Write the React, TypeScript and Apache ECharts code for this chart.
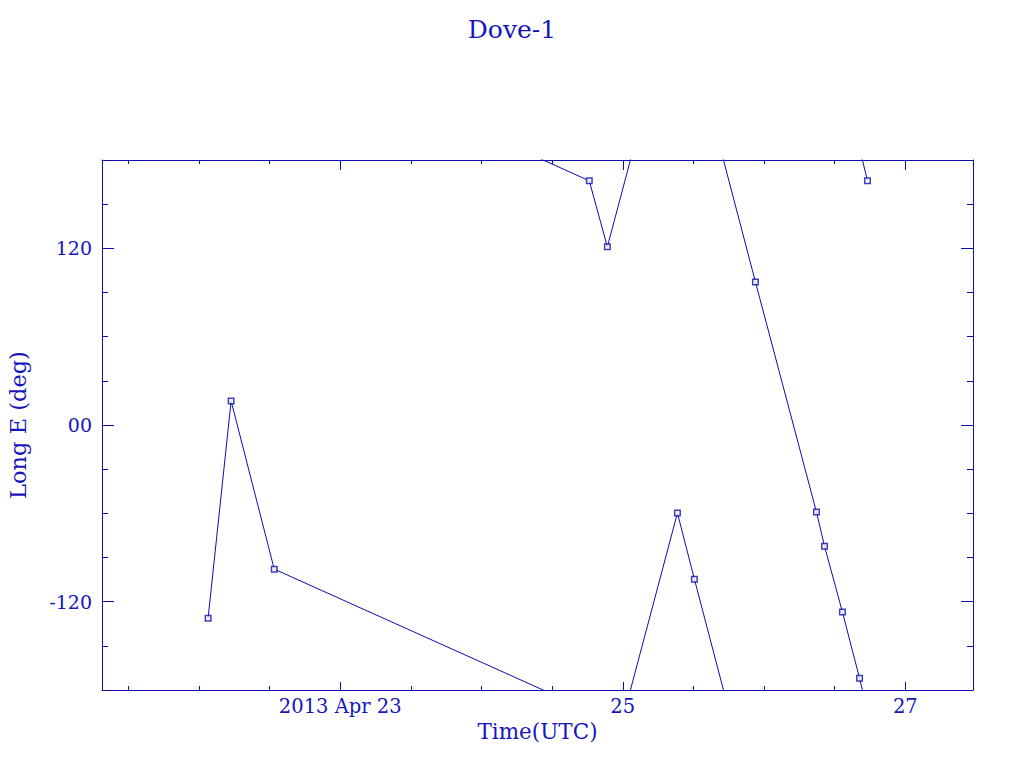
import React, { useEffect, useRef } from "react";
import * as echarts from "echarts";

// Time in days of April 2013 (UTC)
const days = [22.065, 22.228, 22.533, 24.763, 24.891, 25.387, 25.507, 25.939, 26.371, 26.428, 26.555, 26.676, 26.732];
// East longitude (deg), wrapped to [-180, 180]
const longE = [-131.2, 16.3, -97.9, 165.9, 121.0, -59.8, -104.7, 97.2, -59.1, -82.3, -127.1, -172.0, 165.9];

const xMajor = [23, 25, 27];
const xMinor = [21.5, 22, 22.5, 23.5, 24, 24.5, 25.5, 26, 26.5];
const yMajor = [-120, 0, 120];
const yMinor = [-150, -90, -60, -30, 30, 60, 90, 150];

const X_MIN = 21.314;
const X_MAX = 27.479;
const LINE = "#0c0cb0";
const TEXT = "#1616bc";
const FONT = "DejaVu Serif";

function unwrap(vals: number[]): number[] {
  const out: number[] = [];
  let off = 0;
  for (let i = 0; i < vals.length; i++) {
    if (i > 0) {
      const d = vals[i] - vals[i - 1];
      if (d > 180) off -= 360;
      else if (d < -180) off += 360;
    }
    out.push(vals[i] + off);
  }
  return out;
}

export default function App() {
  const ref = useRef<HTMLDivElement>(null);
  useEffect(() => {
    if (!ref.current) return;
    const chart = echarts.init(ref.current, null, { renderer: "svg" });
    const uw = unwrap(longE);
    const offsets = [0, 360, 720];
    const lineSeries = offsets.map((o) => ({
      type: "line",
      xAxisIndex: 0,
      yAxisIndex: 0,
      data: days.map((d, i) => [d, uw[i] + o]),
      showSymbol: false,
      clip: true,
      lineStyle: { color: LINE, width: 1 },
      silent: true,
      z: 2,
    }));

    const mkX = (pos: "bottom" | "top", ticks: number[], len: number, labels: boolean, line: boolean, name?: string) => ({
      type: "value",
      position: pos,
      min: X_MIN,
      max: X_MAX,
      splitLine: { show: false },
      axisLine: { show: line, onZero: false, lineStyle: { color: LINE, width: 1 } },
      axisTick: { show: true, inside: true, length: len, customValues: ticks, lineStyle: { color: LINE, width: 1 } },
      axisLabel: labels
        ? {
            show: true,
            customValues: xMajor,
            margin: 6,
            color: TEXT,
            fontFamily: FONT,
            fontSize: 19.5,
            formatter: (v: number) => (Math.round(v) === 23 ? "2013 Apr 23" : String(Math.round(v))),
          }
        : { show: false },
      name: name || "",
      nameLocation: "middle",
      nameGap: 30,
      nameTextStyle: { color: TEXT, fontFamily: FONT, fontSize: 21.5 },
    });

    const mkY = (pos: "left" | "right", ticks: number[], len: number, labels: boolean, line: boolean, name?: string) => ({
      type: "value",
      position: pos,
      min: -180,
      max: 180,
      splitLine: { show: false },
      axisLine: { show: line, onZero: false, lineStyle: { color: LINE, width: 1 } },
      axisTick: { show: true, inside: true, length: len, customValues: ticks, lineStyle: { color: LINE, width: 1 } },
      axisLabel: labels
        ? {
            show: true,
            customValues: yMajor,
            margin: 10,
            color: TEXT,
            fontFamily: FONT,
            fontSize: 19,
            formatter: (v: number) => (v === 0 ? "00" : String(v)),
          }
        : { show: false },
      name: name || "",
      nameLocation: "middle",
      nameGap: 73,
      nameRotate: 90,
      nameTextStyle: { color: TEXT, fontFamily: FONT, fontSize: 22.5 },
    });

    chart.setOption({
      animation: false,
      backgroundColor: "#ffffff",
      title: {
        text: "Dove-1",
        left: "center",
        top: 12,
        textStyle: { color: TEXT, fontFamily: FONT, fontSize: 25, fontWeight: "normal" },
      },
      grid: { left: 102, right: 51, top: 160, bottom: 78, containLabel: false, outerBoundsMode: "none" },
      xAxis: [
        mkX("bottom", xMajor, 8, true, true, "Time(UTC)"),
        mkX("bottom", xMinor, 4, false, false),
        mkX("top", xMajor, 10, false, true),
        mkX("top", xMinor, 4, false, false),
      ],
      yAxis: [
        mkY("left", yMajor, 12, true, true, "Long E (deg)"),
        mkY("left", yMinor, 6, false, false),
        mkY("right", yMajor, 12, false, true),
        mkY("right", yMinor, 6, false, false),
      ],
      series: [
        ...lineSeries,
        {
          type: "scatter",
          xAxisIndex: 0,
          yAxisIndex: 0,
          data: days.map((d, i) => [d, longE[i]]),
          symbol: "rect",
          symbolSize: 5.5,
          itemStyle: { color: "#ffffff", borderColor: LINE, borderWidth: 1.5 },
          silent: true,
          z: 3,
        },
      ],
    });
    return () => chart.dispose();
  }, []);
  return <div ref={ref} style={{ width: 1024, height: 768, position: "absolute", left: 0, top: 0 }} />;
}
